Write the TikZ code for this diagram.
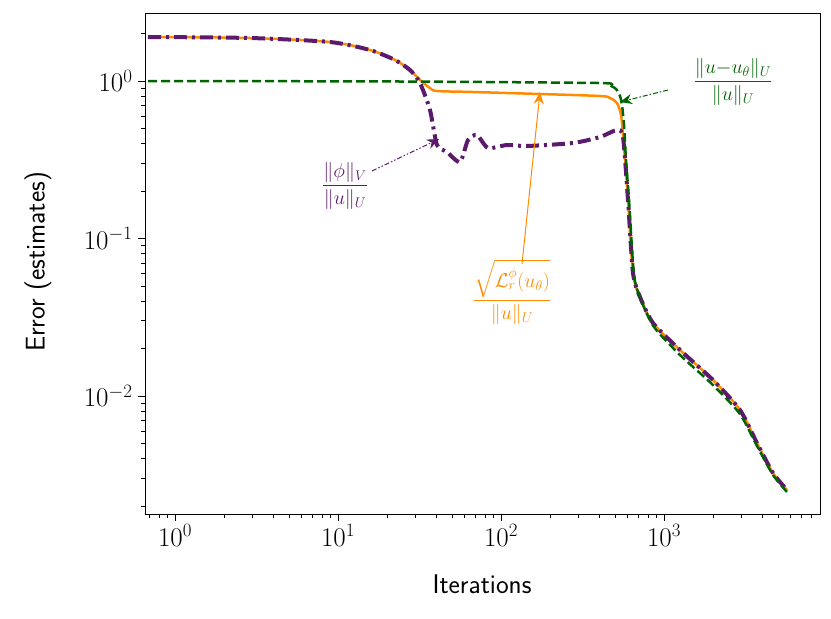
\RequirePackage{fix-cm}
\documentclass[tikz,border=0pt]{standalone}
\usepackage{amsmath}
\usetikzlibrary{arrows.meta}
\definecolor{cpur}{HTML}{5B1A6B}
\definecolor{corg}{HTML}{FF8C00}
\definecolor{cgrn}{HTML}{006400}
\begin{document}
\begin{tikzpicture}[x=1pt,y=-1pt,
  tick/.style={line width=0.8pt},
  purc/.style={cpur,line width=4pt,dash pattern=on 13pt off 5pt on 3pt off 5pt},
  orgc/.style={corg,line width=2.5pt},
  grnc/.style={cgrn,line width=2.5pt,dash pattern=on 9pt off 4pt},
  lab/.style={font=\fontsize{20}{24}\selectfont},
  ticklab/.style={font=\fontsize{27}{32}\selectfont},
  axlab/.style={font=\fontsize{27}{32}\selectfont\sffamily}]
\useasboundingbox (0,0) rectangle (831,619);
% curves
\draw[orgc] plot[smooth,tension=0.5] coordinates {(148,37)(250,38)(330,42)(370,50)(395,60)(410,70)(420,80)(430,88)(437,91)(473,92)(540,94)(600,96)(610,98)(617,103)(621,115)(623,135)(625,160)(628,200)(633,273)(640,297)(653,323)(680,350)(713,380)(740,410)(757,443)(773,473)(787,490)};
\draw[purc] plot[smooth,tension=0.4] coordinates {(148,37)(250,38)(330,42)(370,50)(395,60)(410,70)(420,83)(430,110)(437,145)(447,152)(460,162)(468,140)(477,135)(488,148)(507,145)(527,146)(573,143)(600,137)(617,130)(623,137)(628,200)(633,273)(640,297)(653,323)(680,350)(713,380)(740,410)(757,443)(773,473)(787,490)};
\draw[grnc] plot[smooth,tension=0.4] coordinates {(148,81)(400,81.5)(598,83)(609,85)(616,89)(620,96)(622,105)(624,125)(626,160)(629,200)(634,275)(641,300)(654,327)(680,355)(713,385)(740,414)(757,446)(773,475)(787,492)};
% frame
\draw[line width=1pt] (145,13) rectangle (820,514);
% x ticks
\foreach \k in {-1,0,1,2,3}{
  \foreach \m in {2,...,9}{
    \pgfmathsetmacro\xx{175+163*(\k+log10(\m))}
    \pgfmathparse{(\xx>146)&&(\xx<819)?1:0}
    \ifnum\pgfmathresult=1 \draw[tick] (\xx,514) -- (\xx,518);\fi
  }}
\foreach \k in {0,1,2,3}{
  \pgfmathsetmacro\xx{175+163*\k}
  \draw[tick] (\xx,514) -- (\xx,521);
  \node[ticklab,anchor=north] (xl\k) at (\xx,521) {$10^{\k}$};
}
% y ticks
\foreach \k in {1,0,-1,-2,-3}{
  \foreach \m in {2,...,9}{
    \pgfmathsetmacro\yy{81-157.5*(\k+log10(\m))}
    \pgfmathparse{(\yy>14)&&(\yy<513)?1:0}
    \ifnum\pgfmathresult=1 \draw[tick] (145,\yy) -- (141,\yy);\fi
  }}
\foreach \k/\t in {0/0,1/-1,2/-2}{
  \pgfmathsetmacro\yy{81+157.5*\k}
  \draw[tick] (145,\yy) -- (138,\yy);
  \node[ticklab,anchor=east] (yl\k) at (136,\yy) {$10^{\t}$};
}
\node[axlab] (xlabel) at (482,584) {Iterations};
\node[axlab,rotate=90] (ylabel) at (38,262) {Error (estimates)};
% annotations
\coordinate (tg) at (620,102);
\coordinate (tp) at (439,139);
\coordinate (to) at (540,92);
\node[lab,cgrn] (lg) at (733,82) {$\dfrac{\|u{-}u_\theta\|_U}{\|u\|_U}$};
\node[lab,cpur] (lp) at (345,186) {$\dfrac{\|\phi\|_V}{\|u\|_U}$};
\node[lab,corg] (lo) at (512,292) {$\dfrac{\sqrt{\mathcal{L}_r^{\phi}(u_\theta)}}{\|u\|_U}$};
\draw[cgrn,line width=1pt,dash pattern=on 5pt off 2pt on 1.5pt off 2pt,-{Stealth[length=12pt,width=10pt]}] (668,90) -- (tg);
\draw[cpur,line width=1pt,dash pattern=on 5pt off 2pt on 1.5pt off 2pt on 1.5pt off 2pt,-{Stealth[length=12pt,width=10pt]}] (372,171) -- (tp);
\draw[corg,line width=1pt,-{Stealth[length=12pt,width=10pt]}] (522,264) -- (to);
\end{tikzpicture}
\end{document}
